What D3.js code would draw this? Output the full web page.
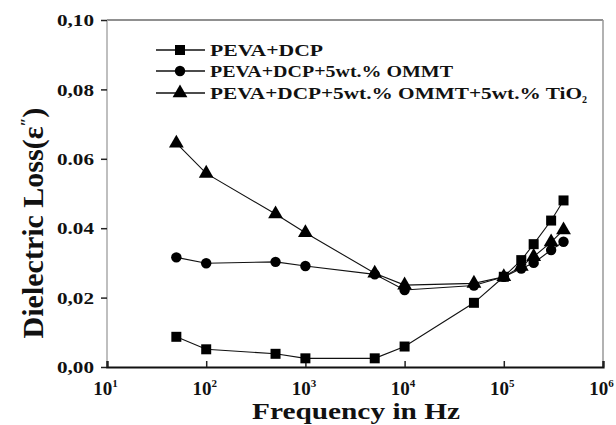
<!DOCTYPE html>
<html><head><meta charset="utf-8">
<script src="https://cdn.jsdelivr.net/npm/d3@7"></script>
</head><body style="margin:0;background:#fff">
<svg id="c" width="616" height="425" style="display:block"></svg>
<script>
const freqs = [50, 100, 500, 1000, 5000, 1e4, 5e4, 1e5, 1.5e5, 2e5, 3e5, 4e5];
const seriesNames = ["PEVA+DCP", "PEVA+DCP+5wt.% OMMT", "PEVA+DCP+5wt.% OMMT+5wt.% TiO"];
const pevaDcp   = [0.0087, 0.0051, 0.0038, 0.0025, 0.0025, 0.0059, 0.0185, 0.026, 0.0308, 0.0354, 0.0422, 0.048];
const pevaOmmt  = [0.0316, 0.0299, 0.0303, 0.0291, 0.0267, 0.0222, 0.0235, 0.026, 0.0284, 0.030, 0.0337, 0.0361];
const pevaTio2  = [0.0645, 0.0558, 0.0441, 0.0387, 0.027, 0.0236, 0.0241, 0.026, 0.029, 0.0318, 0.036, 0.0395];
const yTicks = [0, 0.02, 0.04, 0.06, 0.08, 0.10];
const yTickLabels = ["0,00", "0,02", "0.04", "0.06", "0,08", "0,10"];
const xTicks = [1e1, 1e2, 1e3, 1e4, 1e5, 1e6];
const xTickExp = ["1", "2", "3", "4", "5", "6"];

const FONT = "Liberation Serif";
const svg = d3.select("#c");
const L = 107, R = 603, T = 20, B = 367;
const x = d3.scaleLog().domain([10, 1e6]).range([L, R]);
const y = d3.scaleLinear().domain([0, 0.10]).range([B, T]);

function txt(sel) {
  return sel.attr("font-family", FONT).attr("font-weight", "bold").attr("fill", "#111");
}

// frame
svg.append("line").attr("x1", L).attr("x2", R).attr("y1", T).attr("y2", T).attr("stroke", "#222").attr("stroke-width", 1.2);
svg.append("line").attr("x1", L).attr("x2", L).attr("y1", T).attr("y2", B).attr("stroke", "#aaa").attr("stroke-width", 1.5);
svg.append("line").attr("x1", R).attr("x2", R).attr("y1", T).attr("y2", B).attr("stroke", "#999").attr("stroke-width", 1.5);

// y axis
const yAxis = d3.axisLeft(y).tickValues(yTicks).tickSize(6).tickPadding(0).tickFormat(() => "");
const gy = svg.append("g").attr("transform", `translate(${L},0)`).call(yAxis);
gy.select(".domain").remove();
gy.selectAll(".tick line").attr("stroke", "#222").attr("stroke-width", 1.5);
gy.selectAll(".tick").each(function(d, i) {
  txt(d3.select(this).append("text")).attr("x", -13).attr("dy", "0.34em").attr("text-anchor", "end")
    .attr("font-size", 17).attr("textLength", 37).attr("lengthAdjust", "spacingAndGlyphs")
    .text(yTickLabels[i]);
});

// x axis
const xAxis = d3.axisBottom(x).tickValues(xTicks).tickSize(-6).tickPadding(0).tickFormat(() => "");
const gx = svg.append("g").attr("transform", `translate(0,${B})`).call(xAxis);
gx.select(".domain").attr("stroke", "#111").attr("stroke-width", 2.2);
gx.selectAll(".tick line").attr("stroke", "#222").attr("stroke-width", 1.5);
gx.selectAll(".tick").each(function(d, i) {
  const t = txt(d3.select(this).append("text")).attr("x", -2).attr("y", 28).attr("text-anchor", "middle").attr("font-size", 19);
  t.append("tspan").text("10");
  t.append("tspan").attr("dy", -8).attr("font-size", 11).text(xTickExp[i]);
});

// axis titles
txt(svg.append("text")).attr("x", 356).attr("y", 419).attr("text-anchor", "middle")
  .attr("font-size", 24).attr("textLength", 208).attr("lengthAdjust", "spacingAndGlyphs")
  .text("Frequency in Hz");
const yl = txt(svg.append("text")).attr("transform", "translate(43,223) rotate(-90)").attr("text-anchor", "middle")
  .attr("font-size", 30);
yl.append("tspan").text("Dielectric Loss(ε");
yl.append("tspan").attr("dy", -11).attr("font-size", 16).text("\u2033");
yl.append("tspan").attr("dy", 11).text(")");

// series
const series = [
  {name: seriesNames[0], vals: pevaDcp, shape: d3.symbolSquare, size: 100, w: 113},
  {name: seriesNames[1], vals: pevaOmmt, shape: d3.symbolCircle, size: 85, w: 243},
  {name: seriesNames[2], vals: pevaTio2, shape: d3.symbolTriangle, size: 95, w: 372}
];
const line = d3.line().x(d => x(d[0])).y(d => y(d[1]));
series.forEach(s => {
  const pts = freqs.map((f, i) => [f, s.vals[i]]);
  svg.append("path").attr("d", line(pts)).attr("fill", "none").attr("stroke", "#111").attr("stroke-width", 1.1);
  svg.append("g").selectAll("path").data(pts).join("path")
    .attr("transform", d => `translate(${x(d[0])},${y(d[1])})`)
    .attr("d", d3.symbol().type(s.shape).size(s.size)).attr("fill", "#000");
});

// legend
const legY = [50, 71, 93];
series.forEach((s, i) => {
  const g = svg.append("g").attr("transform", `translate(0,${legY[i]})`);
  g.append("line").attr("x1", 156).attr("x2", 205).attr("stroke", "#111").attr("stroke-width", 1.3);
  g.append("path").attr("transform", "translate(180,0)").attr("d", d3.symbol().type(s.shape).size(s.size)).attr("fill", "#000");
  const t = txt(g.append("text")).attr("x", 210).attr("y", 6).attr("font-size", 17);
  t.append("tspan").attr("textLength", s.w).attr("lengthAdjust", "spacingAndGlyphs").text(s.name);
  if (i === 2) t.append("tspan").attr("dy", 4).attr("font-size", 10).text("2");
});
</script>
</body></html>
